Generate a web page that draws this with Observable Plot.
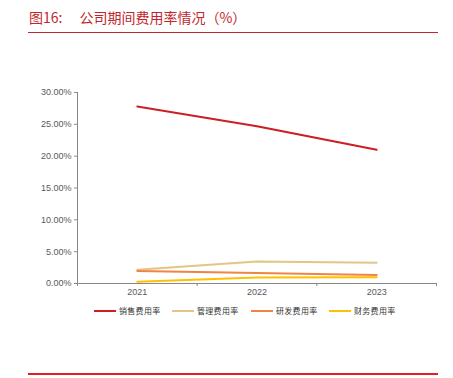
<!DOCTYPE html>
<html><head><meta charset="utf-8">
<script src="https://cdn.jsdelivr.net/npm/d3@7"></script>
<script src="https://cdn.jsdelivr.net/npm/@observablehq/plot@0.6"></script>
<style>
body{margin:0;background:#fff;width:453px;height:378px;position:relative;overflow:hidden;font-family:"Liberation Sans",Arial,sans-serif}
#title{position:absolute;left:29px;top:9px;font-family:"Noto Sans CJK SC",sans-serif;font-size:14px;color:#C0272D;white-space:nowrap;line-height:16px}
#topline{position:absolute;left:28px;top:32px;width:410px;height:1px;background:#C0272D}
#botline{position:absolute;left:28px;top:373px;width:410px;height:2px;background:#E31E24}
#chart{position:absolute;left:0;top:0}
#legend{position:absolute;left:0;top:304px;width:453px;height:16px}
.li{position:absolute;top:0;display:flex;align-items:center;font-family:"Noto Sans CJK SC",sans-serif;font-size:8px;letter-spacing:0.3px;color:#333;line-height:14px}
.li span.sw{display:inline-block;width:22px;height:2px;margin-right:3px}
</style></head>
<body>
<div id="title">图16:<span style="margin-left:17px">公司期间费用率情况（%）</span></div>
<div id="topline"></div>
<div id="chart"></div>
<div id="legend"></div>
<div id="botline"></div>
<script>
const years = ["2021","2022","2023"];
const seriesNames = ["销售费用率","管理费用率","研发费用率","财务费用率"];
const sales = [0.278, 0.247, 0.210];
const admin = [0.0216, 0.0347, 0.0326];
const rnd = [0.0195, 0.0163, 0.0132];
const fin = [0.0027, 0.0095, 0.0100];
const colors = ["#CC1E24","#E3C585","#F08444","#FFC000"];
const yTicks = [0,0.05,0.10,0.15,0.20,0.25,0.30];

const allSeries = [sales, admin, rnd, fin];
const data = [];
allSeries.forEach((vals, s) => vals.forEach((v, i) => data.push({series: seriesNames[s], x: i + 0.5, year: years[i], v})));

const plot = Plot.plot({
  width: 453, height: 300,
  marginLeft: 77, marginRight: 17, marginTop: 92, marginBottom: 17,
  style: {fontFamily: '"Liberation Sans", Arial, sans-serif', fontSize: "9px", color: "#595959", background: "transparent"},
  x: {type: "linear", domain: [0, years.length]},
  y: {domain: [0, 0.30]},
  color: {domain: seriesNames, range: colors},
  marks: [
    Plot.axisY({ticks: yTicks, tickFormat: d => (d*100).toFixed(2) + "%", tickSize: 3, tickPadding: 3, stroke: "#888", label: null, fill: "#595959"}),
    Plot.ruleX([0], {stroke: "#888", strokeWidth: 1}),
    Plot.ruleY([0], {stroke: "#888", strokeWidth: 1}),
    Plot.axisX({ticks: d3.range(years.length + 1), tickFormat: () => "", tickSize: 3, stroke: "#888", label: null}),
    Plot.axisX({ticks: years.map((y, i) => i + 0.5), tickFormat: (d) => years[Math.floor(d)], tickSize: 0, tickPadding: 5, label: null, fill: "#595959"}),
    Plot.line(data, {x: "x", y: "v", z: "series", stroke: "series", strokeWidth: 2})
  ]
});
document.getElementById("chart").appendChild(plot);

const legendX = [94, 172, 251, 329];
const lg = document.getElementById("legend");
seriesNames.forEach((n, i) => {
  const d = document.createElement("div");
  d.className = "li";
  d.style.left = legendX[i] + "px";
  d.innerHTML = `<span class="sw" style="background:${colors[i]}"></span>${n}`;
  lg.appendChild(d);
});
</script>
</body></html>
